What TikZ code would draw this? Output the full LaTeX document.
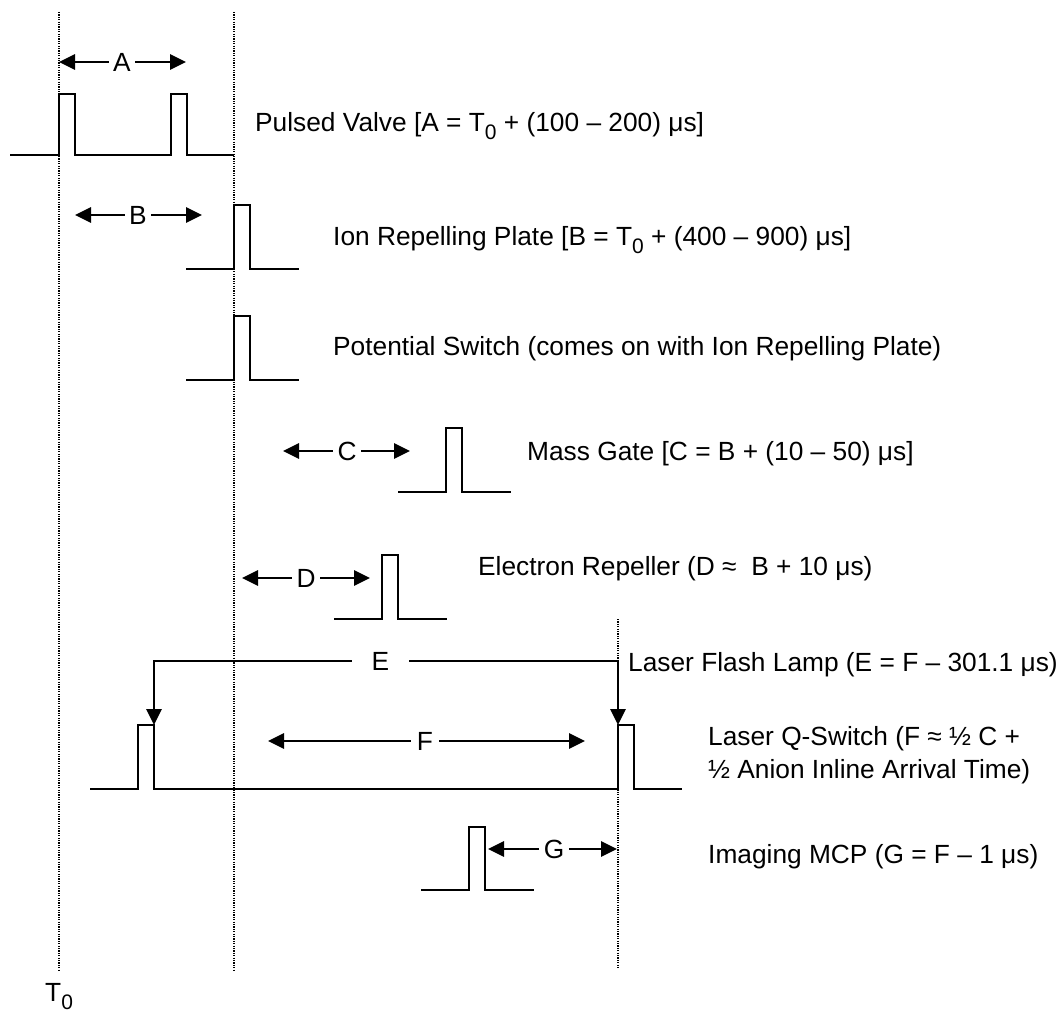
\documentclass[tikz,border=0pt]{standalone}
\usepackage{fontspec}
\setmainfont{Liberation Sans}
\usetikzlibrary{arrows.meta}
\newcommand\zsub[1]{\raisebox{-8pt}{\fontsize{21}{21}\selectfont #1}}
\begin{document}
\begin{tikzpicture}[x=1pt,y=-1pt,
  wave/.style={line width=2.7pt, line join=miter},
  guide/.style={line width=1.2pt, dash pattern=on 1.2pt off 1.2pt},
  dimarr/.style={line width=2.7pt, -{Triangle[length=16pt,width=15pt]}},
  txt/.style={font=\fontsize{26.3}{31}\selectfont, anchor=base west, inner sep=0pt},
  dimlbl/.style={font=\fontsize{26.3}{31}\selectfont, inner xsep=4.5pt, inner ysep=0pt}]
\useasboundingbox (0,0) rectangle (1063,1014);
% guide lines
\draw[guide] (59,12) -- (59,970);
\draw[guide] (234,12) -- (234,970);
\draw[guide] (618,619) -- (618,968);
% waveforms
\draw[wave] (10,155) -| (59,94) -| (75,155) -| (171,94) -| (187,155) -- (234,155);
\draw[wave] (186,269) -| (234,205) -| (250,269) -- (299,269);
\draw[wave] (186,380) -| (234,316) -| (250,380) -- (299,380);
\draw[wave] (398,492) -| (446,428) -| (462,492) -- (511,492);
\draw[wave] (334,619) -| (382,555) -| (398,619) -- (447,619);
\draw[wave] (90,789) -| (138,725) -| (154,789) -| (618,725) -| (634,789) -- (682,789);
\draw[wave] (421,890) -| (469,827) -| (485,890) -- (534,890);
% dimension arrows
\node[dimlbl] (A) at (122,62) {A};
\coordinate (A1) at (59,62); \coordinate (A2) at (186,62);
\draw[dimarr] (A.west) -- (A1); \draw[dimarr] (A.east) -- (A2);
\node[dimlbl] (B) at (138,215) {B};
\coordinate (B1) at (75,215); \coordinate (B2) at (202,215);
\draw[dimarr] (B.west) -- (B1); \draw[dimarr] (B.east) -- (B2);
\node[dimlbl] (C) at (347,451) {C};
\coordinate (C1) at (283,451); \coordinate (C2) at (410,451);
\draw[dimarr] (C.west) -- (C1); \draw[dimarr] (C.east) -- (C2);
\node[dimlbl] (D) at (306,578) {D};
\coordinate (D1) at (242,578); \coordinate (D2) at (370,578);
\draw[dimarr] (D.west) -- (D1); \draw[dimarr] (D.east) -- (D2);
\node[dimlbl, inner xsep=20pt] (E) at (380.5,661) {E};
\coordinate (E1) at (154,725); \coordinate (E2) at (618,725);
\draw[dimarr] (E.west) -| (E1); \draw[dimarr] (E.east) -| (E2);
\node[dimlbl, inner xsep=6pt] (F) at (425,741) {F};
\coordinate (F1) at (268,741); \coordinate (F2) at (585,741);
\draw[dimarr] (F.west) -- (F1); \draw[dimarr] (F.east) -- (F2);
\node[dimlbl] (G) at (554,849) {G};
\coordinate (G1) at (488,849); \coordinate (G2) at (617,849);
\draw[dimarr] (G.west) -- (G1); \draw[dimarr] (G.east) -- (G2);
% texts
\node[txt] (pv) at (255,131.7) {Pulsed Valve [A = T\zsub{0} + (100 – 200) μs]};
\node[txt] (irp) at (333,245) {Ion Repelling Plate [B = T\zsub{0} + (400 – 900) μs]};
\node[txt] (ps) at (333,355) {Potential Switch (comes on with Ion Repelling Plate)};
\node[txt] (mg) at (527,460) {Mass Gate [C = B + (10 – 50) μs]};
\node[txt] (er) at (478,575) {Electron Repeller (D ≈~ B + 10 μs)};
\node[txt] (lfl) at (628,671) {Laser Flash Lamp (E = F – 301.1 μs)};
\node[txt] (lqs1) at (708,745) {Laser Q-Switch (F ≈ ½ C +};
\node[txt] (lqs2) at (708,778) {½ Anion Inline Arrival Time)};
\node[txt] (mcp) at (708,863) {Imaging MCP (G = F – 1 μs)};
\node[txt] (t0) at (45,1001) {T\zsub{0}};
\end{tikzpicture}
\end{document}
